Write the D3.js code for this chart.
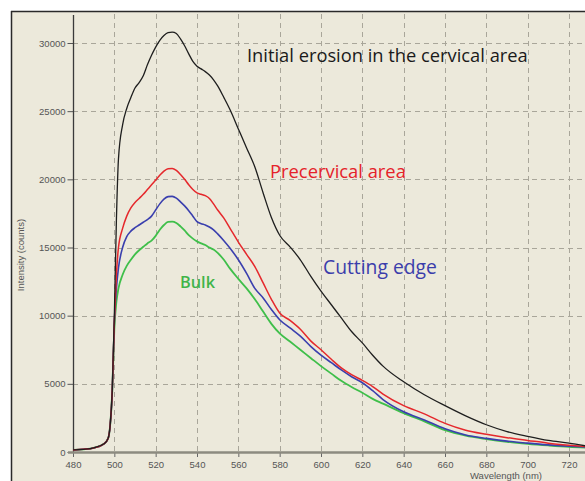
<!DOCTYPE html>
<html>
<head>
<meta charset="utf-8">
<script src="https://cdn.jsdelivr.net/npm/d3@7"></script>
<style>
  html, body { margin: 0; padding: 0; background: #fff; }
  svg { display: block; }
</style>
</head>
<body>
<svg id="chart" width="585" height="481"></svg>
<script>
// ---------- data ----------
const wavelengths = [480,485,490,495,497,498,499,500,501,502,504,506,508,510,512,514,516,518,520,522,524,526,528,530,532,534,536,538,540,542,544,546,548,550,553,556,560,564,568,572,576,580,585,590,595,600,605,610,615,620,625,630,640,650,660,670,680,690,700,710,720,728];

const initialErosion = [150,200,300,600,1000,2000,4500,10000,17000,21500,24000,25200,26000,26700,27100,27600,28400,29100,29700,30200,30550,30760,30800,30700,30300,29800,29200,28650,28300,28100,27900,27650,27300,26850,26000,25100,23700,22300,20900,19000,17200,15900,15050,14100,12900,11800,10800,9800,8800,8000,7100,6300,5150,4200,3400,2650,2000,1500,1150,850,650,450];

const precervical = [150,200,300,600,1000,2000,4500,9500,13000,15000,16400,17300,17900,18300,18600,18900,19250,19600,19950,20300,20600,20780,20800,20650,20350,20000,19600,19250,19000,18900,18800,18600,18200,17750,17150,16400,15400,14500,13600,12400,11200,10200,9650,9000,8150,7500,6800,6150,5650,5250,4800,4250,3400,2800,2100,1600,1300,1050,850,650,500,400];

const cuttingEdge = [150,200,300,600,1000,2000,4500,9500,12000,13500,15000,15800,16200,16450,16650,16850,17050,17300,17750,18200,18550,18730,18750,18620,18350,18050,17700,17300,16900,16750,16650,16500,16300,16000,15500,14950,14100,13100,12000,11300,10450,9700,9100,8500,7750,7100,6550,6000,5500,5080,4500,3850,2950,2350,1700,1250,1000,800,650,520,420,360];

const bulk = [150,200,300,600,1000,2000,4500,9000,11000,12000,13000,13650,14100,14500,14800,15050,15300,15500,15850,16300,16650,16880,16900,16800,16550,16250,15900,15650,15450,15300,15180,15000,14850,14600,14100,13450,12700,12000,11200,10300,9400,8700,8100,7500,6900,6300,5750,5200,4750,4350,3900,3550,2850,2250,1600,1200,950,750,600,480,380,330];

const seriesNames = ["Initial erosion in the cervical area", "Precervical area", "Cutting edge", "Bulk"];
const xTicks = [480,500,520,540,560,580,600,620,640,660,680,700,720];
const yTicks = [0,5000,10000,15000,20000,25000,30000];
const xTitle = "Wavelength (nm)";
const yTitle = "Intensity (counts)";

// ---------- drawing ----------
const svg = d3.select("#chart");
const W = 585, H = 481;

const x = d3.scaleLinear().domain([480, 720]).range([73, 569]);
const y = d3.scaleLinear().domain([0, 30000]).range([452, 43]);

// background frame
svg.append("rect").attr("x", 0).attr("y", 0).attr("width", W).attr("height", H).attr("fill", "#ffffff");
svg.append("rect").attr("x", 11).attr("y", 11).attr("width", W - 11).attr("height", H - 11).attr("fill", "#ece9db");
svg.append("line").attr("x1", 11).attr("x2", W).attr("y1", 11.5).attr("y2", 11.5).attr("stroke", "#2a2a2a").attr("stroke-width", 1.5);
svg.append("line").attr("x1", 11.5).attr("x2", 11.5).attr("y1", 11).attr("y2", H).attr("stroke", "#2a2a2a").attr("stroke-width", 1.5);

// grid
const grid = svg.append("g").attr("stroke", "#a9a69a").attr("stroke-width", 1).attr("stroke-dasharray", "5,4");
grid.selectAll("line.v").data(xTicks.slice(1)).join("line")
  .attr("x1", d => Math.round(x(d)) + 0.5).attr("x2", d => Math.round(x(d)) + 0.5)
  .attr("y1", 14).attr("y2", 452);
grid.selectAll("line.h").data(yTicks.slice(1)).join("line")
  .attr("x1", 73).attr("x2", W)
  .attr("y1", d => Math.round(y(d)) + 0.5).attr("y2", d => Math.round(y(d)) + 0.5);

// axes
const yAxis = d3.axisLeft(y).tickValues(yTicks).tickSize(6).tickPadding(2).tickFormat(d3.format("d"));
const gy = svg.append("g").attr("transform", "translate(73.5,0)").call(yAxis);
gy.select(".domain").remove();
gy.selectAll(".tick line").attr("stroke", "#555");
gy.selectAll(".tick text").attr("fill", "#555").style("font-family", "Liberation Sans, Arial, sans-serif").style("font-size", "9.5px");
svg.append("line").attr("x1", 73.5).attr("x2", 73.5).attr("y1", 15).attr("y2", 453).attr("stroke", "#3a3a3a").attr("stroke-width", 1.3);

const xAxis = d3.axisBottom(x).tickValues(xTicks).tickSize(4).tickPadding(4).tickFormat(d3.format("d"));
const gx = svg.append("g").attr("transform", "translate(0,453)").call(xAxis);
gx.select(".domain").remove();
gx.selectAll(".tick line").attr("stroke", "#666");
gx.selectAll(".tick text").attr("fill", "#555").style("font-family", "Liberation Sans, Arial, sans-serif").style("font-size", "9.5px");
svg.append("line").attr("x1", 68).attr("x2", W).attr("y1", 452.5).attr("y2", 452.5).attr("stroke", "#8d8b80").attr("stroke-width", 2.5);

// axis titles
svg.append("text").attr("x", 506).attr("y", 479).attr("text-anchor", "middle")
  .attr("fill", "#555").style("font-family", "Liberation Sans, Arial, sans-serif").style("font-size", "9.5px").text(xTitle);
svg.append("text").attr("transform", "translate(24,255) rotate(-90)").attr("text-anchor", "middle")
  .attr("fill", "#555").style("font-family", "Liberation Sans, Arial, sans-serif").style("font-size", "9.5px").text(yTitle);

// lines
const series = [
  { vals: bulk, color: "#3fbf4a", w: 1.8 },
  { vals: cuttingEdge, color: "#3a3fae", w: 1.6 },
  { vals: precervical, color: "#e5282c", w: 1.5 },
  { vals: initialErosion, color: "#1e1e1e", w: 1.3 }
];
const line = d3.line().x((d, i) => x(wavelengths[i])).y(d => y(d)).curve(d3.curveMonotoneX);
svg.append("g").selectAll("path").data(series).join("path")
  .attr("d", s => line(s.vals)).attr("fill", "none")
  .attr("stroke", s => s.color).attr("stroke-width", s => s.w).attr("stroke-linejoin", "round");

// series labels
const labels = [
  { t: seriesNames[0], x: 247, y: 62, c: "#1a1a1a", w: 281, fw: 400 },
  { t: seriesNames[1], x: 270, y: 178, c: "#e5222a", w: 136, fw: 400 },
  { t: seriesNames[2], x: 323, y: 274, c: "#3b3dab", w: 114, fw: 400 },
  { t: seriesNames[3], x: 180, y: 288, c: "#3fb449", w: 35, fw: 600 }
];
labels.forEach(l => {
  const t = svg.append("text").attr("x", l.x).attr("y", l.y).attr("fill", l.c)
    .style("font-family", "Open Sans, sans-serif").style("font-weight", l.fw).style("font-size", "16px").text(l.t);
  const len = t.node().getComputedTextLength();
  t.style("font-size", (16 * l.w / len).toFixed(2) + "px");
});
</script>
</body>
</html>
